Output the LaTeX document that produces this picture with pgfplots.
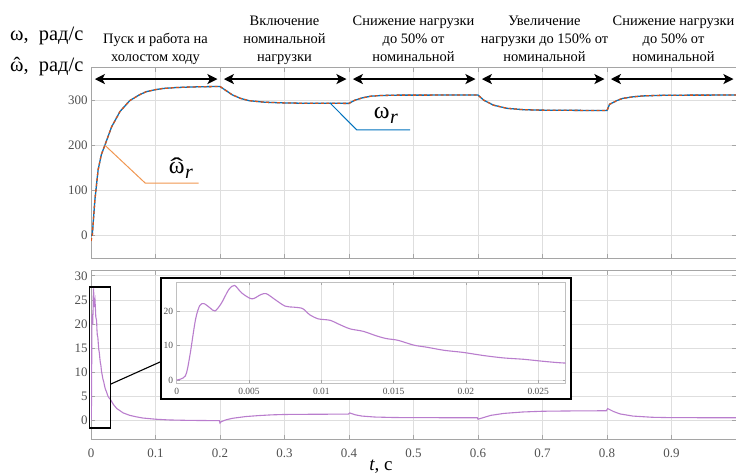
\documentclass[border=0pt]{standalone}
\usepackage{fontspec}
\setmainfont{Liberation Serif}
\usepackage{pgfplots}
\usepackage{pgfplotstable}
\pgfplotsset{compat=1.18}
\usetikzlibrary{arrows.meta}

\definecolor{mblue}{RGB}{0,114,189}
\definecolor{morange}{RGB}{217,83,25}
\definecolor{leadorange}{RGB}{240,150,80}
\definecolor{mpurple}{RGB}{185,125,205}
\definecolor{gridgray}{RGB}{222,222,222}
\definecolor{framegray}{RGB}{165,165,165}
\definecolor{ticktext}{RGB}{80,80,80}

% rotor speed and its estimate, rad/s
\pgfplotstableread{
t      w      we
0      0      -12
0.002  2      0
0.006  79     79
0.011  146    146
0.016  180    180
0.0215 201    201
0.032  242    242
0.045  276    276
0.06   300    300
0.075  313    313
0.0857 320    320
0.1    324.5  324.5
0.111  327    327
0.13   329    329
0.147  330    330
0.17   331    331
0.2    331.5  331.5
0.219  313    313
0.232  305    305
0.245  300    300
0.27   296.5  296.5
0.3    295    295
0.32   294.5  294.5
0.4    294    294
0.409  301    301
0.42   306    306
0.434  310    310
0.45   311.5  311.5
0.475  312.3  312.3
0.6    312.5  312.5
0.609  301    301
0.624  290    290
0.645  283    283
0.67   280    280
0.696  279    279
0.8    278    278
0.804  292    292
0.815  300    300
0.824  305    305
0.84   308.5  308.5
0.855  310.5  310.5
0.88   311.7  311.7
0.9    312.2  312.2
1.0    312.5  312.5
}\speed

% estimation error
\pgfplotstableread{
t       e
0       0
0.0006  1.2
0.0009  6.8
0.0013  17.5
0.0016  21.6
0.0019  22.1
0.0023  20.9
0.00265 20.0
0.0031  22.3
0.0036  26.2
0.0040  27.4
0.0045  25.2
0.0052  23.5
0.0058  24.7
0.0062  25.0
0.0068  23.3
0.0075  21.4
0.0081  21.1
0.0087  20.7
0.0092  18.9
0.0098  17.7
0.0106  17.3
0.0113  16.0
0.0120  14.8
0.0129  14.1
0.0138  12.8
0.0145  12.0
0.0153  11.5
0.0164  10.1
0.0173  9.5
0.0185  8.6
0.0198  8.0
0.0212  7.1
0.0226  6.4
0.0240  6.0
0.0254  5.4
0.0269  4.9
0.03    4.4
0.035   3.3
0.04    2.5
0.05    1.6
0.06    1.1
0.07    0.8
0.08    0.55
0.1     0.3
0.12    0.15
0.15    0.06
0.18    0.02
0.199   0
0.2     -0.5
0.202   -0.2
0.21    0.2
0.22    0.5
0.24    0.85
0.26    1.05
0.28    1.2
0.3     1.28
0.35    1.33
0.399   1.35
0.401   1.6
0.41    1.2
0.42    0.95
0.44    0.75
0.47    0.65
0.5     0.62
0.599   0.6
0.6     0.3
0.61    0.7
0.62    1.1
0.64    1.5
0.67    1.8
0.7     1.95
0.75    2.02
0.799   2.05
0.801   2.5
0.81    1.9
0.82    1.4
0.84    0.95
0.87    0.7
0.9     0.62
1.0     0.6
}\err

\pgfplotsset{
  matlab/.style={
    scale only axis,
    width=645bp,
    xmin=0, xmax=1,
    xtick={0,0.1,0.2,0.3,0.4,0.5,0.6,0.7,0.8,0.9,1},
    grid=major,
    major grid style={gridgray, line width=0.7bp},
    axis line style={framegray, line width=1bp},
    tick style={framegray, line width=0.8bp},
    tick align=inside,
    major tick length=4bp,
    ticklabel style={font=\fontsize{13}{13}\selectfont, text=ticktext},
    /pgf/number format/assume math mode=true,
    clip mode=individual,
  },
}
\tikzset{
  secarrow/.style={line width=2.4bp, {Stealth[length=10bp,width=10bp,inset=2.5bp]}-{Stealth[length=10bp,width=10bp,inset=2.5bp]}},
}

\newcommand\seclabel{\fontsize{14.5}{14.5}\selectfont}
% omega with a circumflex centred above it
\newcommand\omegahat[2]{\ooalign{ω\cr\hidewidth\raisebox{#1}{\scalebox{#2}[1]{ˆ}}\hidewidth\cr}}

\begin{document}
\begin{tikzpicture}
\path[use as bounding box] (0,0) rectangle (736bp,474bp);

% speed axis
\begin{axis}[matlab, at={(91bp,215.8bp)}, anchor=south west,
  height=190.6bp, ymin=-50, ymax=373.5, ytick={0,100,200,300},
  xticklabels={}]
\addplot[mblue, line width=1.3bp] table[x=t, y=w]{\speed};
\addplot[morange, line width=1.3bp, dash pattern=on 3bp off 2.5bp] table[x=t, y=we]{\speed};
\draw[secarrow] (axis cs:0.006,348) -- (axis cs:0.196,348);
\draw[secarrow] (axis cs:0.206,348) -- (axis cs:0.396,348);
\draw[secarrow] (axis cs:0.406,348) -- (axis cs:0.596,348);
\draw[secarrow] (axis cs:0.606,348) -- (axis cs:0.796,348);
\draw[secarrow] (axis cs:0.806,348) -- (axis cs:0.996,348);
\draw[leadorange, line width=1bp] (axis cs:0.0215,201) -- (axis cs:0.084,117) -- (axis cs:0.167,117);
\draw[mblue, line width=1bp] (axis cs:0.3705,295) -- (axis cs:0.412,235) -- (axis cs:0.4946,235);
\node[inner sep=0pt] at (axis cs:0.1395,145) {\fontsize{24}{24}\selectfont \omegahat{-1bp}{1.6}\kern0.5bp\raisebox{-5bp}{\fontsize{20}{20}\selectfont\itshape r}};
\node[inner sep=0pt] at (axis cs:0.457,268) {\fontsize{24}{24}\selectfont ω\kern0.5bp\raisebox{-5bp}{\fontsize{20}{20}\selectfont\itshape r}};
\end{axis}

% estimation error axis
\begin{axis}[matlab, at={(91bp,35bp)}, anchor=south west,
  height=168bp, ymin=-3.8, ymax=31, ytick={0,5,10,15,20,25,30},
  xticklabels={0,0.1,0.2,0.3,0.4,0.5,0.6,0.7,0.8,0.9,{}},
  xticklabel style={yshift=-6bp}]
\addplot[mpurple, line width=1.1bp] table[x=t, y=e]{\err};
\draw[black, line width=1.3bp] (axis cs:-0.0026,-1.5) rectangle (axis cs:0.0299,27.7);
\end{axis}

% magnified start-up interval
\draw[black, line width=1.1bp] (110.3bp,89.7bp) -- (160.7bp,112.3bp);
\draw[black, line width=1.8bp, fill=white] (160.7bp,75bp) rectangle (570.7bp,195.7bp);
\begin{axis}[at={(176.7bp,90.7bp)}, anchor=south west, scale only axis,
  width=389bp, height=101bp,
  xmin=0, xmax=0.0269, ymin=-0.95, ymax=28.3,
  xtick={0,0.005,0.01,0.015,0.02,0.025},
  xticklabels={0,0.005,0.01,0.015,0.02,0.025},
  scaled x ticks=false,
  ytick={0,10,20},
  grid=major,
  major grid style={gridgray, line width=0.6bp},
  axis line style={framegray!70, line width=0.8bp},
  tick style={framegray, line width=0.6bp},
  tick align=inside, major tick length=3bp,
  ticklabel style={font=\fontsize{9.5}{9.5}\selectfont, text=ticktext},
  xticklabel style={yshift=-1.5bp},
  /pgf/number format/assume math mode=true]
\addplot[mpurple, line width=1.1bp, smooth, restrict x to domain=0:0.03] table[x=t, y=e]{\err};
\end{axis}

% axis titles
\node[anchor=base west, inner sep=0pt] at (10bp,433.5bp) {\fontsize{20.5}{20.5}\selectfont ω,\enspace рад/с};
\node[anchor=base west, inner sep=0pt] at (10bp,402bp) {\fontsize{20.5}{20.5}\selectfont \omegahat{0bp}{1},\enspace рад/с};
\node[anchor=base, inner sep=0pt] at (381bp,4bp) {\fontsize{19}{19}\selectfont\textit{t}, с};

% operating-mode captions
\node[anchor=base, inner sep=0pt] at (155.5bp,430.5bp) {\seclabel Пуск и работа на};
\node[anchor=base, inner sep=0pt] at (155.5bp,412.5bp) {\seclabel холостом ходу};
\node[anchor=base, inner sep=0pt] at (284.5bp,448bp) {\seclabel Включение};
\node[anchor=base, inner sep=0pt] at (284.5bp,430.5bp) {\seclabel номинальной};
\node[anchor=base, inner sep=0pt] at (284.5bp,412.5bp) {\seclabel нагрузки};
\node[anchor=base, inner sep=0pt] at (413.5bp,448bp) {\seclabel Снижение нагрузки};
\node[anchor=base, inner sep=0pt] at (413.5bp,430.5bp) {\seclabel до 50\% от};
\node[anchor=base, inner sep=0pt] at (413.5bp,412.5bp) {\seclabel номинальной};
\node[anchor=base, inner sep=0pt] at (544.5bp,448bp) {\seclabel Увеличение};
\node[anchor=base, inner sep=0pt] at (544.5bp,430.5bp) {\seclabel нагрузки до 150\% от};
\node[anchor=base, inner sep=0pt] at (544.5bp,412.5bp) {\seclabel номинальной};
\node[anchor=base, inner sep=0pt] at (673.5bp,448bp) {\seclabel Снижение нагрузки};
\node[anchor=base, inner sep=0pt] at (673.5bp,430.5bp) {\seclabel до 50\% от};
\node[anchor=base, inner sep=0pt] at (673.5bp,412.5bp) {\seclabel номинальной};
\end{tikzpicture}
\end{document}
